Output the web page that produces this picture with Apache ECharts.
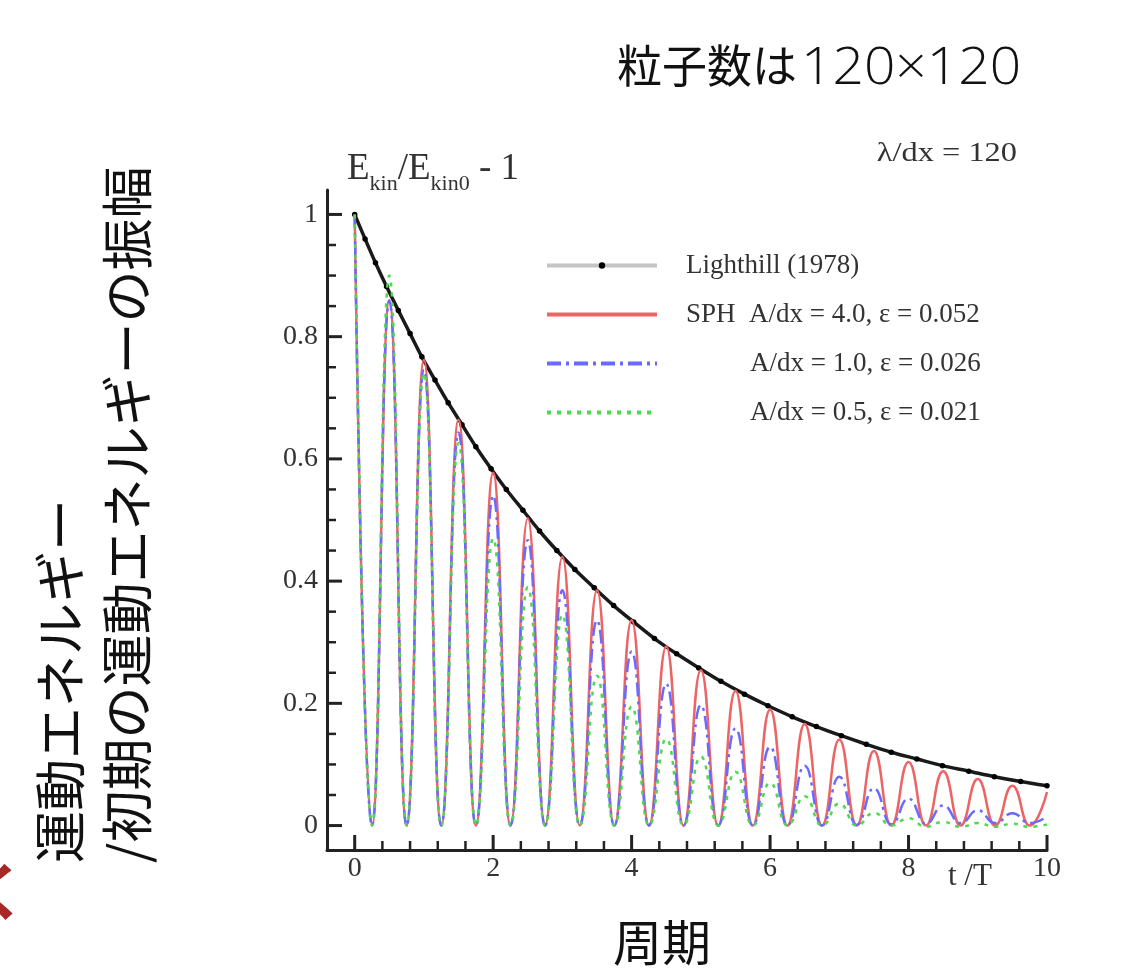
<!DOCTYPE html>
<html>
<head>
<meta charset="utf-8">
<script src="https://cdn.jsdelivr.net/npm/echarts@6.0.0/dist/echarts.min.js"></script>
<style>
html,body{margin:0;padding:0;background:#ffffff;}
#chart{width:1124px;height:973px;}
</style>
</head>
<body>
<div id="chart"></div>
<script>
// ---- data ----
const lighthillT = [0, 0.15, 0.30, 0.46, 0.63, 0.80, 0.97, 1.16, 1.35, 1.55, 1.75, 1.97, 2.19, 2.43, 2.67, 2.92, 3.18, 3.46, 3.74, 4.03, 4.33, 4.65, 4.97, 5.29, 5.63, 5.97, 6.32, 6.67, 7.03, 7.39, 7.75, 8.12, 8.49, 8.87, 9.24, 9.62, 10.0];
const lighthillV = [1.000, 0.960, 0.921, 0.882, 0.843, 0.805, 0.767, 0.729, 0.692, 0.656, 0.620, 0.584, 0.550, 0.516, 0.482, 0.450, 0.419, 0.389, 0.360, 0.333, 0.306, 0.281, 0.258, 0.236, 0.215, 0.196, 0.178, 0.162, 0.147, 0.133, 0.120, 0.109, 0.098, 0.089, 0.080, 0.072, 0.065];

const waveT = [0, 0.25, 0.5, 0.75, 1, 1.25, 1.5, 1.75, 2, 2.25, 2.5, 2.75, 3, 3.25, 3.5, 3.75, 4, 4.25, 4.5, 4.75, 5, 5.25, 5.5, 5.75, 6, 6.25, 6.5, 6.75, 7, 7.25, 7.5, 7.75, 8, 8.25, 8.5, 8.75, 9, 9.25, 9.5, 9.75, 10];
const sph40V = [1.0, 0, 0.859, 0, 0.762, 0, 0.664, 0, 0.577, 0, 0.503, 0, 0.440, 0, 0.385, 0, 0.336, 0, 0.293, 0, 0.254, 0, 0.220, 0, 0.190, 0, 0.166, 0, 0.141, 0, 0.122, 0, 0.104, 0, 0.089, 0, 0.076, 0, 0.065, 0, 0.055];
const sph10V = [1.0, 0, 0.859, 0, 0.746, 0, 0.643, 0, 0.540, 0, 0.467, 0, 0.385, 0, 0.336, 0, 0.285, 0, 0.232, 0, 0.197, 0, 0.159, 0, 0.129, 0, 0.098, 0, 0.080, 0.001, 0.061, 0.002, 0.044, 0.003, 0.033, 0.004, 0.025, 0.004, 0.020, 0.004, 0.015];
const sph05V = [1.0, 0, 0.900, 0, 0.740, 0, 0.626, 0, 0.470, 0, 0.390, 0, 0.345, 0, 0.245, 0, 0.195, 0, 0.142, 0, 0.113, 0, 0.088, 0, 0.070, 0, 0.048, 0, 0.036, 0, 0.021, 0, 0.012, -0.002, 0.006, -0.002, 0.004, -0.002, 0.003, -0.002, 0.002];

const seriesNames = ['Lighthill (1978)', 'SPH  A/dx = 4.0, ε = 0.052', 'A/dx = 1.0, ε = 0.026', 'A/dx = 0.5, ε = 0.021'];

const xMajorTicks = [0, 2, 4, 6, 8, 10];
const xMinorTicks = [0.4, 0.8, 1.2, 1.6, 2.4, 2.8, 3.2, 3.6, 4.4, 4.8, 5.2, 5.6, 6.4, 6.8, 7.2, 7.6, 8.4, 8.8, 9.2, 9.6];
const yMajorTicks = [0, 0.2, 0.4, 0.6, 0.8, 1];
const yMinorTicks = [0.05, 0.1, 0.15, 0.25, 0.3, 0.35, 0.45, 0.5, 0.55, 0.65, 0.7, 0.75, 0.85, 0.9, 0.95];

// ---- chart ----
const chart = echarts.init(document.getElementById('chart'), null, {renderer: 'canvas'});
const serif = 'Liberation Serif';
const cjk = 'Noto Sans CJK JP';
const axisCol = '#222222';
const X_MIN = -0.4, X_MAX = 10, Y_MIN = -0.04, Y_MAX = 1.04;

function pairs(t, v) { return t.map((x, i) => [x, v[i]]); }

// tick marks drawn through the axes' own scales (api.coord)
function tickSeries(values, isX, len, width) {
  return {
    type: 'custom', xAxisIndex: 0, yAxisIndex: 0, silent: true, clip: false, z: 10,
    data: values.map(v => isX ? [v, Y_MIN] : [X_MIN, v]),
    renderItem: function (params, api) {
      const p = api.coord([api.value(0), api.value(1)]);
      const shape = isX
        ? {x1: p[0], y1: p[1], x2: p[0], y2: p[1] - len}
        : {x1: p[0], y1: p[1], x2: p[0] + len, y2: p[1]};
      return {type: 'line', shape: shape, style: {stroke: axisCol, lineWidth: width}};
    }
  };
}

const legendRows = [
  {name: seriesNames[0], top: 252, pad: 24, line: {color: '#c4c4c4', width: 4}},
  {name: seriesNames[1], top: 301, pad: 24, line: {width: 4}},
  {name: seriesNames[2], top: 350, pad: 88, line: {width: 4}},
  {name: seriesNames[3], top: 399, pad: 88, line: {width: 4}}
];

const option = {
  backgroundColor: '#ffffff',
  animation: false,
  grid: {left: 327, right: 77, top: 190, bottom: 123, containLabel: false},
  xAxis: {
    type: 'value', min: X_MIN, max: X_MAX, position: 'bottom',
    axisLine: {show: true, onZero: false, lineStyle: {color: axisCol, width: 3}},
    axisTick: {show: false},
    axisLabel: {show: true, customValues: xMajorTicks, fontFamily: serif, fontSize: 28, color: '#333', margin: 5},
    splitLine: {show: false}
  },
  yAxis: {
    type: 'value', min: Y_MIN, max: Y_MAX, position: 'left',
    axisLine: {show: true, onZero: false, lineStyle: {color: axisCol, width: 3}},
    axisTick: {show: false},
    axisLabel: {show: true, customValues: yMajorTicks, fontFamily: serif, fontSize: 28, color: '#333', margin: 9},
    splitLine: {show: false}
  },
  legend: legendRows.map(r => ({
    data: [r.name],
    orient: 'vertical',
    left: 545, top: r.top,
    padding: 0,
    itemWidth: 110, itemHeight: 8,
    selectedMode: false,
    lineStyle: r.line,
    itemStyle: r.name === seriesNames[0] ? {color: '#000'} : {color: 'rgba(0,0,0,0)', borderWidth: 0},
    textStyle: {fontFamily: serif, fontSize: 27, color: '#333', padding: [0, 0, 0, r.pad]}
  })),
  series: [
    {
      name: seriesNames[0], type: 'line',
      data: pairs(lighthillT, lighthillV),
      smooth: 0.3,
      symbol: 'circle', symbolSize: 5.5, showSymbol: true,
      itemStyle: {color: '#000'},
      lineStyle: {color: '#1a1a1a', width: 3.5},
      z: 2
    },
    {
      name: seriesNames[1], type: 'line',
      data: pairs(waveT, sph40V),
      smooth: 0.5, smoothMonotone: 'x',
      symbol: 'none',
      itemStyle: {color: '#ec6464'},
      lineStyle: {color: '#ec6464', width: 2.5},
      z: 3
    },
    {
      name: seriesNames[2], type: 'line',
      data: pairs(waveT, sph10V),
      smooth: 0.5, smoothMonotone: 'x',
      symbol: 'none',
      itemStyle: {color: '#6a6aff'},
      lineStyle: {color: '#6a6aff', width: 2.5, type: [14, 5, 3, 5]},
      z: 4
    },
    {
      name: seriesNames[3], type: 'line',
      data: pairs(waveT, sph05V),
      smooth: 0.5, smoothMonotone: 'x',
      symbol: 'none',
      itemStyle: {color: '#4ed84e'},
      lineStyle: {color: '#4ed84e', width: 2.5, type: [4, 6]},
      z: 5
    },
    tickSeries(xMajorTicks, true, 15, 3),
    tickSeries(xMinorTicks, true, 9, 2.5),
    tickSeries(yMajorTicks, false, 15, 3),
    tickSeries(yMinorTicks, false, 9, 2.5)
  ],
  graphic: [
    {
      type: 'text', x: 617, y: 66,
      style: {text: '粒子数は', fontFamily: cjk, fontSize: 45, fill: '#111', align: 'left', verticalAlign: 'middle'}
    },
    {
      type: 'text', x: 801, y: 69, scaleX: 1.08,
      style: {text: '120×120', fontFamily: 'Open Sans', fontWeight: 300, fontSize: 51, fill: '#111', align: 'left', verticalAlign: 'middle'}
    },
    {
      type: 'text', x: 347, y: 173,
      style: {
        text: '{n|E}{s|kin}{n|/E}{s|kin0}{n| - 1}',
        align: 'left', verticalAlign: 'middle',
        rich: {
          n: {fontFamily: serif, fontSize: 37, fill: '#333', lineHeight: 36, verticalAlign: 'top'},
          s: {fontFamily: serif, fontSize: 22, fill: '#333', lineHeight: 44, verticalAlign: 'bottom'}
        }
      }
    },
    {
      type: 'text', x: 1017, y: 154, scaleX: 1.2,
      style: {text: 'λ/dx = 120', fontFamily: serif, fontSize: 27, fill: '#333', align: 'right', verticalAlign: 'middle'}
    },
    {
      type: 'text', x: 948, y: 877,
      style: {text: 't /T', fontFamily: serif, fontSize: 31, fill: '#333', align: 'left', verticalAlign: 'middle'}
    },
    {
      type: 'text', x: 662, y: 942,
      style: {text: '周期', fontFamily: cjk, fontSize: 49, fill: '#111', align: 'center', verticalAlign: 'middle'}
    },
    {
      type: 'text', x: 60, y: 863, rotation: Math.PI / 2,
      style: {text: '運動エネルギー', fontFamily: cjk, fontSize: 52, fill: '#111', align: 'left', verticalAlign: 'middle'}
    },
    {
      type: 'text', x: 127, y: 863, rotation: Math.PI / 2,
      style: {text: '/初期の運動エネルギーの振幅', fontFamily: cjk, fontSize: 52, fill: '#111', align: 'left', verticalAlign: 'middle'}
    },
    {
      type: 'text', x: -34, y: 891,
      style: {text: 'く', fontFamily: cjk, fontWeight: 'bold', fontSize: 62, fill: '#a82828', align: 'left', verticalAlign: 'middle'}
    }
  ]
};
chart.setOption(option);
</script>
</body>
</html>
